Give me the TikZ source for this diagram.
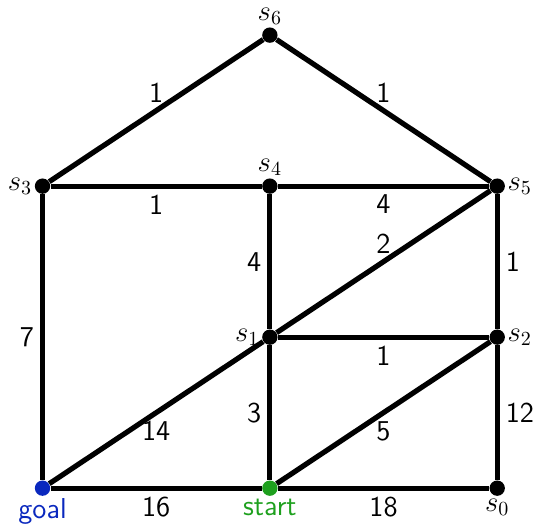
\documentclass[tikz,border=0pt]{standalone}
\usepackage{tikz}
\usepackage{xcolor}
\definecolor{goalblue}{RGB}{10, 40, 190}
\definecolor{startgreen}{RGB}{30, 160, 30}

\tikzset{
    vertex/.style={circle, fill=black, minimum size=0.27cm, inner sep=0pt},
    wt/.style={font=\sffamily\Large, inner sep=3pt},
    edge/.style={line width=2.6pt}
}

\begin{document}
\begin{tikzpicture}[x=4cm, y=2.657cm]
\useasboundingbox (-0.748cm, -0.634cm) rectangle (8.70cm, 8.589cm);

% === Nodos ===
\node[vertex, fill=goalblue, label={[font=\sffamily\Large, text=goalblue, inner sep=1pt]below:goal}] (goal) at (0, 0) {};
\node[vertex, fill=startgreen, label={[font=\sffamily\Large, text=startgreen, inner sep=1pt]below:start}] (start) at (1, 0) {};
\node[vertex, label={[font=\Large, inner sep=1pt]below:$s_0$}] (s0) at (2, 0) {};
\node[vertex, label={[font=\Large, inner sep=1pt]left:$s_1$}] (s1) at (1, 1) {};
\node[vertex, label={[font=\Large, inner sep=1pt]right:$s_2$}] (s2) at (2, 1) {};
\node[vertex, label={[font=\Large, inner sep=1pt]left:$s_3$}] (s3) at (0, 2) {};
\node[vertex, label={[font=\Large, inner sep=1pt]above:$s_4$}] (s4) at (1, 2) {};
\node[vertex, label={[font=\Large, inner sep=1pt]right:$s_5$}] (s5) at (2, 2) {};
\node[vertex, label={[font=\Large, inner sep=1pt]above:$s_6$}] (s6) at (1, 3) {};

% === Aristas ===
\draw[edge] (s3) -- node[wt, above] {1} (s6);
\draw[edge] (s6) -- node[wt, above] {1} (s5);
\draw[edge] (s3) -- node[wt, below] {1} (s4);
\draw[edge] (s4) -- node[wt, below] {4} (s5);
\draw[edge] (s5) -- node[wt, above] {2} (s1);
\draw[edge] (s3) -- node[wt, left] {7} (goal);
\draw[edge] (s4) -- node[wt, left] {4} (s1);
\draw[edge] (s5) -- node[wt, right] {1} (s2);
\draw[edge] (s1) -- node[wt, below] {1} (s2);
\draw[edge] (s1) -- node[wt, below] {14} (goal);
\draw[edge] (s1) -- node[wt, left] {3} (start);
\draw[edge] (s2) -- node[wt, below] {5} (start);
\draw[edge] (s2) -- node[wt, right] {12} (s0);
\draw[edge] (goal) -- node[wt, below] {16} (start);
\draw[edge] (start) -- node[wt, below] {18} (s0);

\end{tikzpicture}
\end{document}
